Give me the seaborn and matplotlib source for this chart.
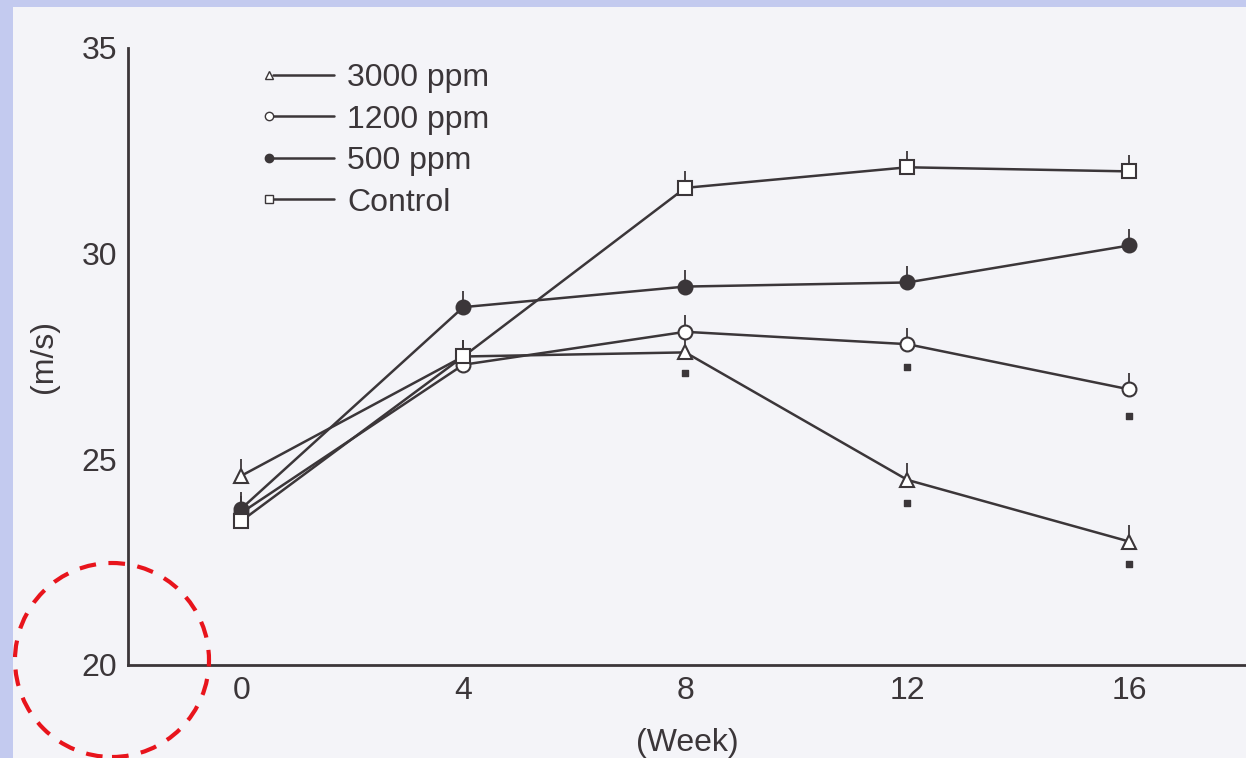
import matplotlib
matplotlib.use("Agg")
import matplotlib.pyplot as plt
import seaborn as sns
import pandas as pd
from matplotlib.patches import Ellipse, Rectangle
from matplotlib.lines import Line2D
from matplotlib.legend_handler import HandlerLine2DCompound

weeks = [0, 4, 8, 12, 16]
series_names = ["3000 ppm", "1200 ppm", "500 ppm", "Control"]
v3000 = [24.6, 27.5, 27.6, 24.5, 23.0]
v1200 = [23.7, 27.3, 28.1, 27.8, 26.7]
v500 = [23.8, 28.7, 29.2, 29.3, 30.2]
vcontrol = [23.5, 27.5, 31.6, 32.1, 32.0]
err_up = [0.4, 0.4, 0.4, 0.4, 0.4]
sig_weeks = [8, 12, 16, 12, 16]
sig_vals = [27.1, 23.95, 22.45, 27.25, 26.05]
y_ticks = [20, 25, 30, 35]
x_ticks = [0, 4, 8, 12, 16]

ink = "#3b3639"
sns.set_theme(style="white")
plt.rcParams["font.family"] = ["Liberation Sans", "DejaVu Sans"]


class MarkerFirst(HandlerLine2DCompound):
    def get_xdata(self, legend, xdescent, ydescent, width, height, fontsize):
        x0 = -xdescent
        return [x0 + 0.12 * width, x0 + width], [x0 + 0.07 * width]


fig = plt.figure(figsize=(12.46, 7.58), dpi=100, facecolor="#c3caef")
fig.patches.append(Rectangle((13 / 1246, 0), 1 - 13 / 1246, 1 - 7 / 758,
                             transform=fig.transFigure, facecolor="#f4f4f8",
                             edgecolor="none", zorder=-5))
ax = fig.add_axes([128 / 1246, 93 / 758, 1 - 128 / 1246, (665 - 48) / 758])
ax.set_facecolor("none")
ax.set_zorder(1)

styles = {
    "3000 ppm": dict(marker="^", mfc="white"),
    "1200 ppm": dict(marker="o", mfc="white"),
    "500 ppm": dict(marker="o", mfc=ink),
    "Control": dict(marker="s", mfc="white"),
}
data = {"3000 ppm": v3000, "1200 ppm": v1200, "500 ppm": v500, "Control": vcontrol}

handles = []
for name in series_names:
    df = pd.DataFrame({"week": weeks, "val": data[name]})
    st = styles[name]
    sns.lineplot(data=df, x="week", y="val", ax=ax, color=ink, lw=1.8,
                 marker=st["marker"], markersize=10, markerfacecolor=st["mfc"],
                 markeredgecolor=ink, markeredgewidth=1.5, zorder=3)
    ax.errorbar(weeks, data[name], yerr=[[0] * 5, err_up], fmt="none",
                ecolor=ink, elinewidth=1.3, capsize=0, zorder=2)
    handles.append(Line2D([], [], color=ink, lw=1.8, marker=st["marker"],
                          markersize=6, markerfacecolor=st["mfc"],
                          markeredgecolor=ink, label=name))

ax.scatter(sig_weeks, sig_vals, marker="s", s=22, color=ink, zorder=4)

ax.set_xlim(-2.04, 18.1)
ax.set_ylim(20, 35)
ax.set_xticks(x_ticks)
ax.set_yticks(y_ticks)
ax.tick_params(axis="both", direction="in", length=10, width=1.3, colors=ink,
               labelsize=23, labelcolor=ink)
ax.tick_params(axis="x", pad=8)
ax.tick_params(axis="y", pad=8)
for s in ["top", "right"]:
    ax.spines[s].set_visible(False)
for s in ["left", "bottom"]:
    ax.spines[s].set_color(ink)
    ax.spines[s].set_linewidth(2)

ax.set_xlabel("(Week)", fontsize=23, color=ink, labelpad=16)
ax.set_ylabel("(m/s)", fontsize=23, color=ink, labelpad=16)

leg = ax.legend(handles=handles, loc="upper left", bbox_to_anchor=(0.096, 1.022),
                frameon=False, fontsize=23, handlelength=2.2, handletextpad=0.4,
                labelspacing=0.36, labelcolor=ink,
                handler_map={Line2D: MarkerFirst(numpoints=1)})

fig.patches.append(Ellipse((112 / 1246, 1 - 660 / 758), 194 / 1246, 194 / 758,
                           transform=fig.transFigure, fill=False,
                           edgecolor="#e8141c", linestyle=(0, (4, 3)), lw=3, zorder=10))

fig.savefig("out.png", dpi=100, facecolor=fig.get_facecolor())
